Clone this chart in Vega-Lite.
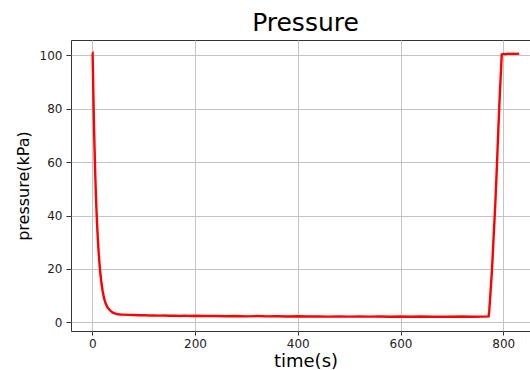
{
  "$schema": "https://vega.github.io/schema/vega-lite/v6.json",
  "autosize": {"type": "none"},
  "padding": {"left": 71, "top": 40, "right": 0, "bottom": 39},
  "width": 469,
  "height": 291,
  "background": "white",
  "title": {"text": "Pressure", "font": "DejaVu Sans", "fontSize": 25, "fontWeight": "normal", "color": "black", "offset": 4},
  "data": {"values": [
    {"t": 0, "p": 100.6}, {"t": 0.5, "p": 100.7}, {"t": 1, "p": 96.5}, {"t": 2, "p": 85.7}, {"t": 3, "p": 76.1},
    {"t": 4, "p": 67.7}, {"t": 5, "p": 60.2}, {"t": 6, "p": 53.6}, {"t": 7, "p": 47.7}, {"t": 8, "p": 42.5},
    {"t": 10, "p": 33.9}, {"t": 12, "p": 27.1}, {"t": 14, "p": 21.8}, {"t": 16, "p": 17.6}, {"t": 18, "p": 14.3},
    {"t": 20, "p": 11.8}, {"t": 23, "p": 8.9}, {"t": 26, "p": 7.0}, {"t": 30, "p": 5.4}, {"t": 35, "p": 4.3},
    {"t": 40, "p": 3.6}, {"t": 45, "p": 3.2}, {"t": 50, "p": 3.0}, {"t": 55, "p": 2.9}, {"t": 60, "p": 2.85},
    {"t": 70, "p": 2.75}, {"t": 80, "p": 2.7}, {"t": 90, "p": 2.6}, {"t": 100, "p": 2.65}, {"t": 110, "p": 2.5},
    {"t": 120, "p": 2.55}, {"t": 130, "p": 2.45}, {"t": 140, "p": 2.5}, {"t": 150, "p": 2.4}, {"t": 160, "p": 2.45},
    {"t": 170, "p": 2.35}, {"t": 180, "p": 2.45}, {"t": 190, "p": 2.3}, {"t": 200, "p": 2.4}, {"t": 220, "p": 2.3},
    {"t": 240, "p": 2.35}, {"t": 260, "p": 2.25}, {"t": 280, "p": 2.3}, {"t": 300, "p": 2.2}, {"t": 320, "p": 2.3},
    {"t": 340, "p": 2.2}, {"t": 360, "p": 2.25}, {"t": 380, "p": 2.15}, {"t": 400, "p": 2.25}, {"t": 420, "p": 2.15},
    {"t": 440, "p": 2.2}, {"t": 460, "p": 2.1}, {"t": 480, "p": 2.2}, {"t": 500, "p": 2.1}, {"t": 520, "p": 2.2},
    {"t": 540, "p": 2.1}, {"t": 560, "p": 2.15}, {"t": 580, "p": 2.05}, {"t": 600, "p": 2.15}, {"t": 620, "p": 2.05},
    {"t": 640, "p": 2.15}, {"t": 660, "p": 2.05}, {"t": 680, "p": 2.1}, {"t": 700, "p": 2.05}, {"t": 720, "p": 2.15},
    {"t": 740, "p": 2.05}, {"t": 760, "p": 2.1}, {"t": 771.5, "p": 2.2}, {"t": 772.8, "p": 4.5}, {"t": 775, "p": 10.7},
    {"t": 778, "p": 19.5}, {"t": 780.6, "p": 29.5}, {"t": 784.5, "p": 44.4}, {"t": 787.8, "p": 59.4}, {"t": 790.3, "p": 71.9},
    {"t": 793.6, "p": 86.9}, {"t": 796, "p": 96.0}, {"t": 797, "p": 100.4}, {"t": 800, "p": 100.6}, {"t": 805, "p": 100.5},
    {"t": 810, "p": 100.7}, {"t": 815, "p": 100.6}, {"t": 820, "p": 100.7}, {"t": 825, "p": 100.6}, {"t": 831, "p": 100.7}
  ]},
  "mark": {"type": "line", "color": "#ff0000", "strokeWidth": 2.4, "clip": true},
  "encoding": {
    "x": {"field": "t", "type": "quantitative", "title": "time(s)",
      "scale": {"domain": [-41.5, 871.5], "nice": false, "zero": false},
      "axis": {"values": [0, 200, 400, 600, 800], "titleFontSize": 18, "titlePadding": 3}},
    "y": {"field": "p", "type": "quantitative", "title": "pressure(kPa)",
      "scale": {"domain": [-3.3, 105.8], "nice": false, "zero": false},
      "axis": {"values": [0, 20, 40, 60, 80, 100], "titleFontSize": 16, "titlePadding": 8, "tickSize": 5, "labelPadding": 4}}
  },
  "config": {
    "view": {"stroke": "#333333", "strokeWidth": 1},
    "axis": {
      "domain": false,
      "grid": true, "gridColor": "#c4c4c4", "gridWidth": 1,
      "ticks": true, "tickColor": "#333333", "tickSize": 4,
      "labelFont": "DejaVu Sans", "labelFontSize": 12, "labelColor": "#222222", "labelPadding": 3,
      "titleFont": "DejaVu Sans", "titleFontWeight": "normal", "titleColor": "black"
    }
  }
}
